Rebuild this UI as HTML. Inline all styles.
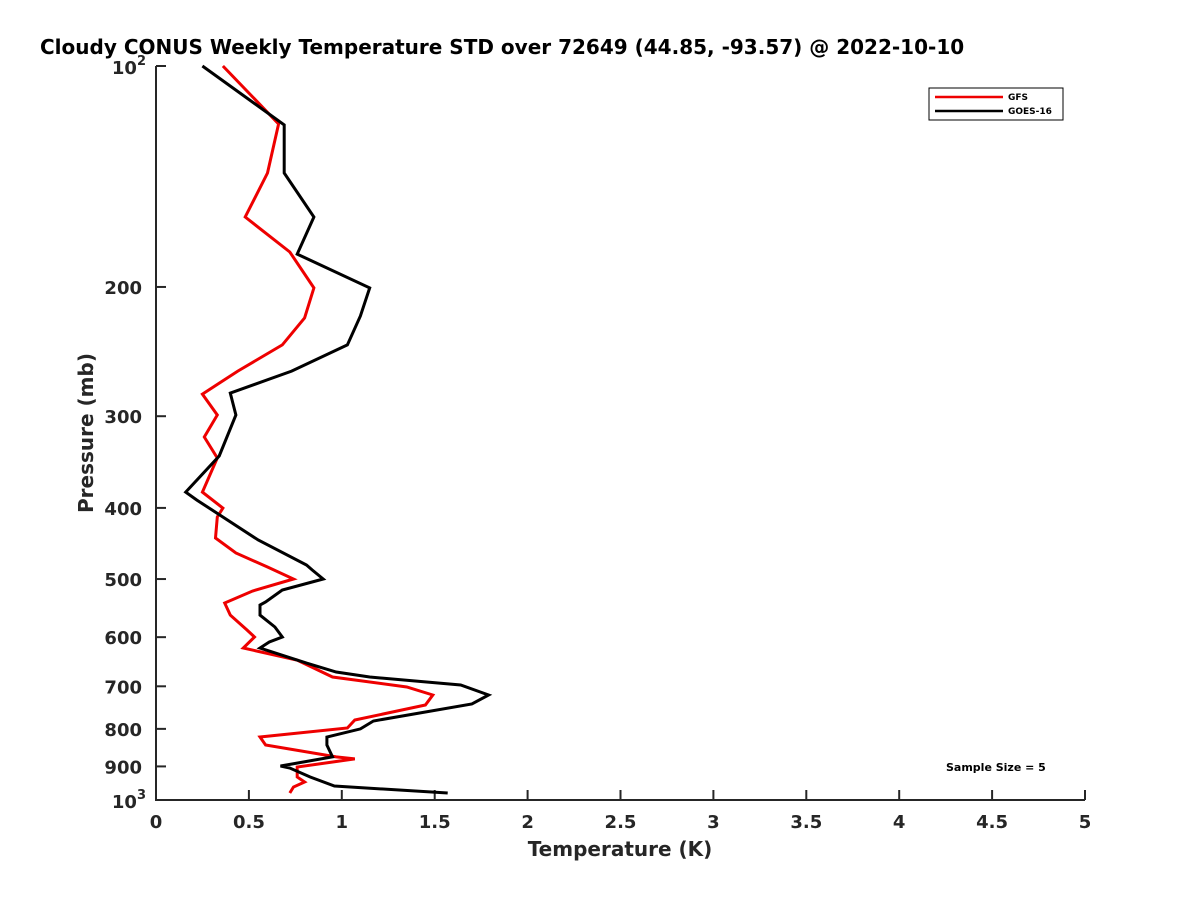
<!DOCTYPE html>
<html><head><meta charset="utf-8"><style>
body{margin:0;background:#fff;}
svg text{font-family:"DejaVu Sans","Liberation Sans",sans-serif;font-weight:bold;fill:#262626;}
</style></head><body>
<svg id="chart" width="1200" height="900" xmlns="http://www.w3.org/2000/svg">
<rect width="1200" height="900" fill="#fff"/>
<text x="40" y="54" font-size="20" text-anchor="start" style="fill:#000">Cloudy CONUS Weekly Temperature STD over 72649 (44.85, -93.57) @ 2022-10-10</text>
<g id="axes"></g>
<g id="series"></g>
<text x="620" y="856" font-size="20" text-anchor="middle">Temperature (K)</text>
<text transform="translate(93,433) rotate(-90)" font-size="20" text-anchor="middle">Pressure (mb)</text>
<g>
<rect x="929" y="88" width="134" height="32" fill="#fff" stroke="#000" stroke-width="1"/>
<line x1="935" y1="97" x2="1003" y2="97" stroke="#e00" stroke-width="2.5"/>
<text x="1008" y="100" font-size="9" style="fill:#000">GFS</text>
<line x1="935" y1="111" x2="1003" y2="111" stroke="#000" stroke-width="2.5"/>
<text x="1008" y="114" font-size="9" style="fill:#000">GOES-16</text>
</g>
<text x="946" y="771" font-size="11" style="fill:#000">Sample Size = 5</text>
</svg>
<script>
const xTicks=[0,0.5,1,1.5,2,2.5,3,3.5,4,4.5,5];
const xTickLabels=["0","0.5","1","1.5","2","2.5","3","3.5","4","4.5","5"];
const yTicks=[200,300,400,500,600,700,800,900];
const goesP=[100,120.3,139.9,160.6,180.4,200.6,219.1,239.9,260.4,279,298.9,339.9,380.6,390.3,442.4,478.4,485.9,500,517.5,537.3,542.4,559.8,581.2,599.6,609.1,620.8,650.8,669.3,679.9,697.2,719.4,740,780.4,800.2,820.6,841.4,873.6,898.8,904.5,930.4,957,978.3];
const goesT=[0.25,0.69,0.69,0.85,0.76,1.15,1.10,1.03,0.73,0.40,0.43,0.34,0.16,0.22,0.55,0.81,0.84,0.90,0.68,0.59,0.56,0.56,0.64,0.68,0.61,0.56,0.81,0.97,1.15,1.64,1.79,1.70,1.17,1.10,0.92,0.92,0.95,0.67,0.72,0.83,0.96,1.57];
const gfsP=[100,119.9,139.9,160.6,179.2,200.6,220.4,239.9,260.4,279.9,298.9,320.2,342,380.6,400.2,411.6,439.6,460.8,481.4,500,519.1,539,559.8,586.7,599.6,620.8,644.7,679.9,701.5,719.4,742.3,778,797.7,820.6,841.4,873.6,879.1,901.6,930.4,945,960,978.3];
const gfsT=[0.36,0.66,0.60,0.48,0.72,0.85,0.80,0.68,0.44,0.25,0.33,0.26,0.33,0.25,0.36,0.33,0.32,0.43,0.60,0.74,0.52,0.37,0.40,0.49,0.53,0.47,0.76,0.95,1.35,1.49,1.45,1.07,1.03,0.56,0.59,0.97,1.07,0.76,0.76,0.80,0.74,0.72];
const NS="http://www.w3.org/2000/svg";
const X0=156,X1=1085,Y0=66,Y1=800;
function xs(t){return X0+(t/5)*(X1-X0);}
function ys(p){return Y0+(Math.log10(p)-2)*(Y1-Y0);}
function mk(tag,attrs,parent){const e=document.createElementNS(NS,tag);for(const k in attrs)e.setAttribute(k,attrs[k]);parent.appendChild(e);return e;}
const axes=document.getElementById('axes');
let l=mk('line',{x1:X0,y1:Y0,x2:X0,y2:Y1,stroke:'#262626','stroke-width':2},axes);


l=mk('line',{x1:X0-1,y1:Y1,x2:X1,y2:Y1,stroke:'#262626','stroke-width':2},axes);


xTicks.forEach((t,i)=>{
  const x=xs(t);
  const tk=mk('line',{x1:x,y1:Y1,x2:x,y2:Y1-10,stroke:'#262626','stroke-width':2},axes);
  
  
  const tx=mk('text',{x:x,y:Y1+28,'font-size':18,'text-anchor':'middle'},axes);
  tx.textContent=xTickLabels[i];
  
  
});
[100,1000].forEach(p=>{
  const y=ys(p);
  const tk=mk('line',{x1:X0,y1:y,x2:X0+10,y2:y,stroke:'#262626','stroke-width':2},axes);
  
  
  const tx=mk('text',{x:X0-10,y:y+8,'font-size':18,'text-anchor':'end'},axes);
  tx.innerHTML='10<tspan dy="-9" font-size="13">'+(p===100?'2':'3')+'</tspan>';
  
  
});
yTicks.forEach(p=>{
  const y=ys(p);
  const tk=mk('line',{x1:X0,y1:y,x2:X0+10,y2:y,stroke:'#262626','stroke-width':2},axes);
  
  
  const tx=mk('text',{x:X0-14,y:y+7,'font-size':18,'text-anchor':'end'},axes);
  tx.textContent=String(p);
  
  
});
const ser=document.getElementById('series');
function line(P,T,color,name){
  const pts=P.map((p,i)=>xs(T[i]).toFixed(1)+','+ys(p).toFixed(1)).join(' ');
  const e=mk('polyline',{points:pts,fill:'none',stroke:color,'stroke-width':3,'stroke-linejoin':'miter'},ser);
  
  
}
line(gfsP,gfsT,'#e00','gfs-line');
line(goesP,goesT,'#000','goes16-line');
</script>
</body></html>
